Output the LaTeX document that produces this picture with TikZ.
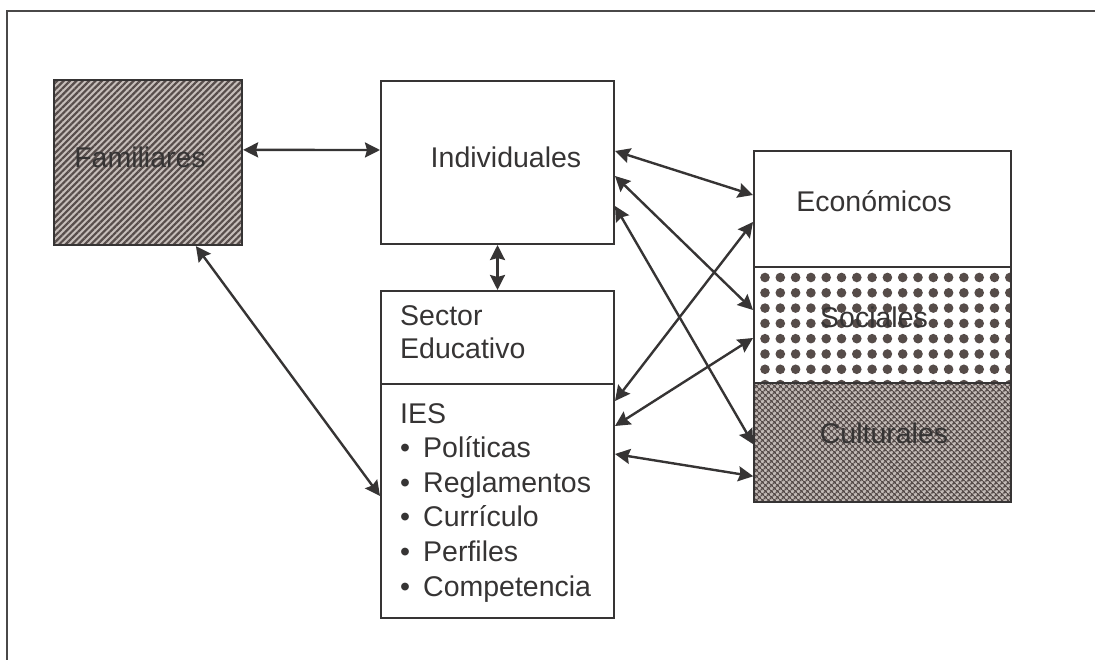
\documentclass[tikz,border=0pt]{standalone}
\usepackage{fontspec}
\setmainfont{Liberation Sans}
\usetikzlibrary{arrows.meta,patterns.meta}
\definecolor{ink}{HTML}{363434}
\definecolor{famlight}{HTML}{C6BEBA}
\definecolor{famdark}{HTML}{574D4B}
\definecolor{cultlight}{HTML}{C4BCB8}
\definecolor{dotdark}{HTML}{564C49}
\newcommand{\bul}[1]{\makebox[23pt][l]{\textbullet}#1}

\begin{document}
\begin{tikzpicture}[x=1pt,y=-1pt,
    every node/.style={font=\fontsize{28.5}{34.6}\selectfont, text=ink},
    box/.style={draw=ink, line width=2pt, rectangle, inner sep=0pt},
    famfill/.style={preaction={fill=famlight}, pattern={Lines[angle=45,distance=4.5pt,line width=2.2pt]}, pattern color=famdark},
    socfill/.style={preaction={fill=white}, pattern={Dots[distance=15.3pt,radius=4.8pt]}, pattern color=dotdark},
    cultfill/.style={preaction={fill=cultlight}, pattern={Hatch[angle=45,distance=4pt,line width=1.5pt]}, pattern color=famdark},
    txt/.style={inner sep=0pt, align=left},
    link/.style={{Stealth[length=15pt,width=15pt,inset=2pt]}-{Stealth[length=15pt,width=15pt,inset=2pt]}, line width=2.4pt, draw=ink}]
  \useasboundingbox (0,0) rectangle (1095,660);
  % frame
  \draw[draw=ink!90, line width=2pt] (7,660) -- (7,11) -- (1095,11);

  % boxes
  \node[box, famfill, minimum width=188pt, minimum height=165pt,
    label={[xshift=-8pt,yshift=5.5pt]center:Familiares}] (fam) at (148,162.5) {};
  \node[box, minimum width=233pt, minimum height=163pt,
    label={[xshift=8.5pt,yshift=5.5pt]center:Individuales}] (indiv) at (497.5,162.5) {};
  \node[box, minimum width=233pt, minimum height=93pt] (sector) at (497.5,337.5) {};
  \node[box, minimum width=233pt, minimum height=234pt] (ies) at (497.5,501) {};
  \node[box, minimum width=257pt, minimum height=116pt,
    label={[xshift=-8.5pt,yshift=8pt]center:Económicos}] (econ) at (882.5,209) {};
  \node[box, socfill, minimum width=257pt, minimum height=116pt,
    label={[xshift=-8.5pt,yshift=8pt]center:Sociales}] (soc) at (882.5,325) {};
  \node[box, cultfill, minimum width=257pt, minimum height=119pt,
    label={[xshift=1.5pt,yshift=9.5pt]center:Culturales}] (cult) at (882.5,442.5) {};

  % texts (base = last line)
  \node[txt, anchor=base west, font=\fontsize{28.5}{33}\selectfont] (sectortxt)
    at ([xshift=20pt,yshift=-69pt]sector.north west) {Sector\\Educativo};
  \node[txt, anchor=base west] (iestxt) at ([xshift=20pt,yshift=-213pt]ies.north west)
    {IES\\\bul{Políticas}\\\bul{Reglamentos}\\\bul{Currículo}\\\bul{Perfiles}\\\bul{Competencia}};

  % connectors
  \draw[link] ([yshift=-71pt]fam.north east) -- ([yshift=-70pt]indiv.north west);
  \draw[link] (indiv.south) -- (sector.north);
  \draw[link] ([yshift=-71pt]indiv.north east) -- ([yshift=-45pt]econ.north west);
  \draw[link] ([yshift=-96pt]indiv.north east) -- ([yshift=-44pt]soc.north west);
  \draw[link] ([yshift=-126pt]indiv.north east) -- ([yshift=-62pt]cult.north west);
  \draw[link] ([yshift=-18pt]ies.north east) -- ([yshift=-72pt]econ.north west);
  \draw[link] ([yshift=-43pt]ies.north east) -- ([yshift=-72pt]soc.north west);
  \draw[link] ([yshift=-71pt]ies.north east) -- ([yshift=-94pt]cult.north west);
  \draw[link] ([xshift=143pt]fam.south west) -- ([yshift=-113pt]ies.north west);
\end{tikzpicture}
\end{document}
